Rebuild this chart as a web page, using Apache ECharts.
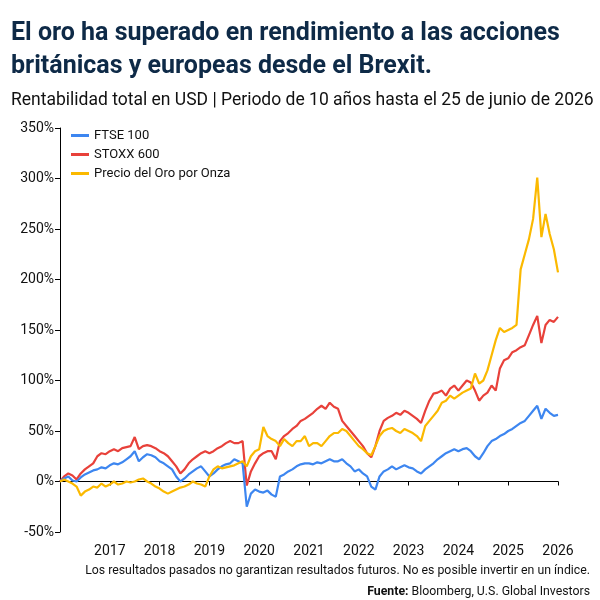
<!DOCTYPE html>
<html>
<head>
<meta charset="utf-8">
<script src="https://cdn.jsdelivr.net/npm/echarts@6/dist/echarts.min.js"></script>
<style>html,body{margin:0;padding:0;background:#fff}#chart{width:600px;height:600px}</style>
</head>
<body>
<div id="chart"></div>
<script>
// monthly points, Jun 2016 (index 0) .. Jun 2026 (index 120)
var startYear = 2016;
var yTicks = [-50, 0, 50, 100, 150, 200, 250, 300, 350];
var ftse = [
    0, 3, 5, 1, 0, 4, 7,
    9, 11, 12, 14, 13, 16, 18, 17, 19, 22, 25, 30,
    20, 24, 27, 26, 24, 20, 18, 15, 12, 5, 0, 3,
    7, 10, 13, 15, 10, 5, 8, 12, 15, 17, 18, 22,
    20, 18, -25, -12, -8, -10, -11, -9, -13, -15, 5, 7,
    10, 12, 15, 17, 18, 18, 17, 19, 18, 20, 22, 20,
    20, 22, 18, 15, 10, 12, 8, 5, -5, -8, 5, 10,
    12, 15, 12, 14, 16, 14, 13, 10, 8, 12, 15, 18,
    22, 25, 28, 30, 32, 30, 32, 33, 30, 25, 22, 28,
    35, 40, 42, 45, 47, 50, 52, 55, 58, 60, 65, 70,
    75, 62, 72, 68, 65, 66
];
var stoxx = [
    0, 5, 8, 6, 2, 8, 12,
    15, 18, 25, 28, 27, 30, 32, 30, 33, 34, 35, 44,
    32, 35, 36, 35, 33, 30, 28, 25, 20, 15, 8, 12,
    18, 22, 25, 28, 30, 28, 30, 33, 35, 38, 40, 38,
    38, 40, -4, 10, 18, 25, 28, 30, 30, 22, 40, 45,
    48, 52, 55, 60, 62, 65, 68, 72, 75, 72, 78, 74,
    72, 60, 55, 50, 45, 40, 35, 28, 24, 35, 50, 60,
    63, 65, 68, 66, 70, 68, 65, 62, 58, 70, 80, 87,
    88, 90, 85, 92, 95, 90, 95, 100, 98, 90, 80, 85,
    88, 95, 90, 112, 120, 122, 128, 130, 133, 135, 145, 155,
    164, 137, 155, 160, 158, 163
];
var gold = [
    0, 2, 0, -2, -5, -14, -10,
    -8, -5, -6, -2, -5, -3, 0, -3, -2, 0, -1, 0,
    2, 3, 0, -2, -5, -7, -10, -12, -10, -8, -6, -5,
    -3, 0, -2, -3, -5, 5, 12, 15, 13, 14, 15, 16,
    18, 20, 15, 25, 30, 32, 54, 45, 42, 40, 35, 42,
    38, 35, 40, 40, 45, 35, 38, 38, 35, 40, 45, 48,
    48, 52, 50, 45, 40, 35, 32, 28, 26, 35, 45, 50,
    52, 53, 50, 48, 52, 50, 48, 45, 40, 55, 60, 65,
    70, 78, 80, 85, 82, 85, 88, 90, 92, 107, 97, 100,
    110, 125, 140, 152, 148, 150, 152, 155, 210, 225, 240, 260,
    301, 242, 265, 245, 230, 207
];

function pairs(arr) { return arr.map(function (v, i) { return [i, v]; }); }

var chart = echarts.init(document.getElementById('chart'));
var font = "Roboto, 'Liberation Sans', sans-serif";
chart.setOption({
    animation: false,
    textStyle: { fontFamily: font },
    title: [
        {
            text: 'El oro ha superado en rendimiento a las acciones\nbritánicas y europeas desde el Brexit.',
            left: 6, top: 12,
            textStyle: { fontSize: 25, fontWeight: 'bold', color: '#0e2a47', lineHeight: 33, fontFamily: font }
        },
        {
            text: 'Rentabilidad total en USD | Periodo de 10 años hasta el 25 de junio de 2026',
            left: 6, top: 87,
            textStyle: { fontSize: 17.5, fontWeight: 'normal', color: '#111', fontFamily: font }
        },
        {
            text: 'Los resultados pasados no garantizan resultados futuros. No es posible invertir en un índice.',
            right: 5, top: 560,
            textStyle: { fontSize: 12.3, fontWeight: 'normal', color: '#111', fontFamily: font }
        },
        {
            text: '{b|Fuente:} Bloomberg, U.S. Global Investors',
            right: 5, top: 581,
            textStyle: {
                fontSize: 12.3, fontWeight: 'normal', color: '#111', fontFamily: font,
                rich: { b: { fontWeight: 'bold', fontSize: 12.3, fontFamily: font } }
            }
        }
    ],
    legend: {
        orient: 'vertical', left: 66, top: 124, itemGap: 6,
        icon: 'rect', itemWidth: 18, itemHeight: 3,
        textStyle: { fontSize: 13, color: '#111', fontFamily: font },
        data: ['FTSE 100', 'STOXX 600', 'Precio del Oro por Onza']
    },
    grid: { left: 60, right: 42, top: 128, bottom: 68 },
    xAxis: [
        {
            type: 'value', min: 0, max: 120, interval: 12,
            axisLine: { onZero: true, lineStyle: { color: '#000' } },
            axisTick: { show: true, length: 4, lineStyle: { color: '#000' } },
            axisLabel: { show: false }, splitLine: { show: false }
        },
        {
            type: 'value', min: 0, max: 120, interval: 12, position: 'bottom',
            axisLine: { show: false, onZero: false }, axisTick: { show: false }, splitLine: { show: false },
            axisLabel: {
                fontSize: 14, color: '#111', margin: 12, fontFamily: font,
                formatter: function (v) { return v === 0 ? '' : String(startYear + v / 12); }
            }
        }
    ],
    yAxis: {
        type: 'value', min: yTicks[0], max: yTicks[yTicks.length - 1], interval: 50,
        axisLine: { show: true, lineStyle: { color: '#000' } },
        axisTick: { show: true, length: 5, lineStyle: { color: '#000' } },
        splitLine: { show: false },
        axisLabel: { fontSize: 14, color: '#111', margin: 6, fontFamily: font, formatter: '{value}%' }
    },
    series: [
        { name: 'STOXX 600', type: 'line', data: pairs(stoxx), showSymbol: false, lineStyle: { width: 2.2, color: '#e8413a' }, itemStyle: { color: '#e8413a' }, z: 3 },
        { name: 'FTSE 100', type: 'line', data: pairs(ftse), showSymbol: false, lineStyle: { width: 2.2, color: '#3d86f0' }, itemStyle: { color: '#3d86f0' }, z: 4 },
        { name: 'Precio del Oro por Onza', type: 'line', data: pairs(gold), showSymbol: false, lineStyle: { width: 2.2, color: '#fbb900' }, itemStyle: { color: '#fbb900' }, z: 5 }
    ]
});
</script>
</body>
</html>
